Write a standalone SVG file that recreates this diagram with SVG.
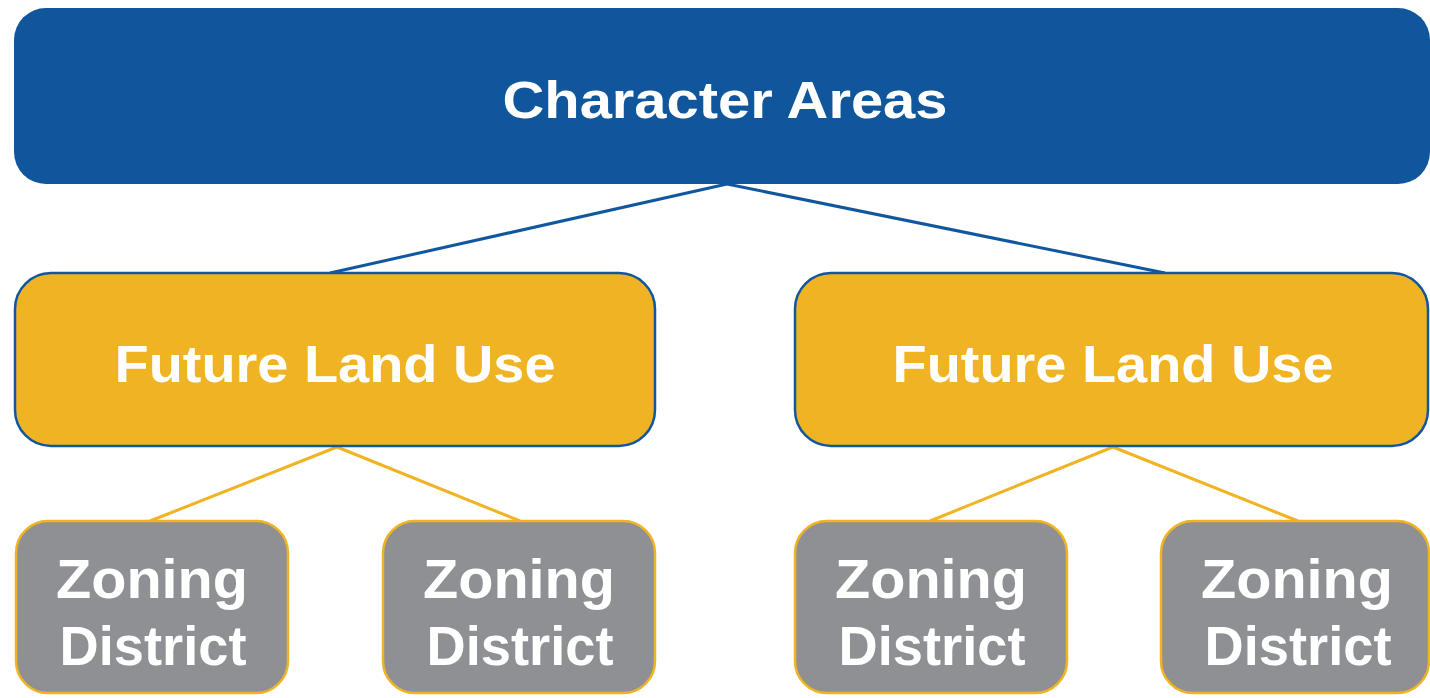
<svg xmlns="http://www.w3.org/2000/svg" width="1430" height="698" viewBox="0 0 1430 698">
<style>
.t{font-family:"Liberation Sans",Arial,sans-serif;font-weight:bold;fill:#fff;text-anchor:middle}
.top{fill:#0F569C}
.flu{fill:#F0B323;stroke:#1157A0;stroke-width:2.5}
.zd{fill:#8E9094;stroke:#F0B323;stroke-width:2.5}
.cb{stroke:#1157A0;stroke-width:3;fill:none}
.cy{stroke:#F0B323;stroke-width:3;fill:none}
</style>
<rect width="1430" height="698" fill="#fff"/>
<g id="connectors">
<line class="cb" x1="727" y1="184" x2="330" y2="273"/>
<line class="cb" x1="727" y1="184" x2="1165" y2="273"/>
<line class="cy" x1="337" y1="447" x2="150" y2="521"/>
<line class="cy" x1="337" y1="447" x2="520" y2="521"/>
<line class="cy" x1="1113" y1="447" x2="930" y2="521"/>
<line class="cy" x1="1113" y1="447" x2="1298" y2="521"/>
</g>
<g id="character-areas">
<rect class="top" x="14" y="8" width="1416" height="176" rx="32"/>
<text class="t" x="725" y="118" font-size="52" textLength="445" lengthAdjust="spacingAndGlyphs">Character Areas</text>
</g>
<g id="flu-left">
<rect class="flu" x="15" y="273" width="640" height="173" rx="36"/>
<text class="t" x="335" y="382" font-size="52" textLength="441" lengthAdjust="spacingAndGlyphs">Future Land Use</text>
</g>
<g id="flu-right">
<rect class="flu" x="795" y="273" width="633" height="173" rx="36"/>
<text class="t" x="1113" y="382" font-size="52" textLength="441" lengthAdjust="spacingAndGlyphs">Future Land Use</text>
</g>
<g id="zd-1">
<rect class="zd" x="16" y="521" width="272" height="172" rx="32"/>
<text class="t" x="152" y="598" font-size="56" textLength="192" lengthAdjust="spacingAndGlyphs">Zoning</text>
<text class="t" x="153" y="665" font-size="56" textLength="187" lengthAdjust="spacingAndGlyphs">District</text>
</g>
<g id="zd-2">
<rect class="zd" x="383" y="521" width="272" height="172" rx="32"/>
<text class="t" x="519" y="598" font-size="56" textLength="192" lengthAdjust="spacingAndGlyphs">Zoning</text>
<text class="t" x="520" y="665" font-size="56" textLength="187" lengthAdjust="spacingAndGlyphs">District</text>
</g>
<g id="zd-3">
<rect class="zd" x="795" y="521" width="272" height="172" rx="32"/>
<text class="t" x="931" y="598" font-size="56" textLength="192" lengthAdjust="spacingAndGlyphs">Zoning</text>
<text class="t" x="932" y="665" font-size="56" textLength="187" lengthAdjust="spacingAndGlyphs">District</text>
</g>
<g id="zd-4">
<rect class="zd" x="1161" y="521" width="268" height="172" rx="32"/>
<text class="t" x="1297" y="598" font-size="56" textLength="192" lengthAdjust="spacingAndGlyphs">Zoning</text>
<text class="t" x="1298" y="665" font-size="56" textLength="187" lengthAdjust="spacingAndGlyphs">District</text>
</g>
</svg>
